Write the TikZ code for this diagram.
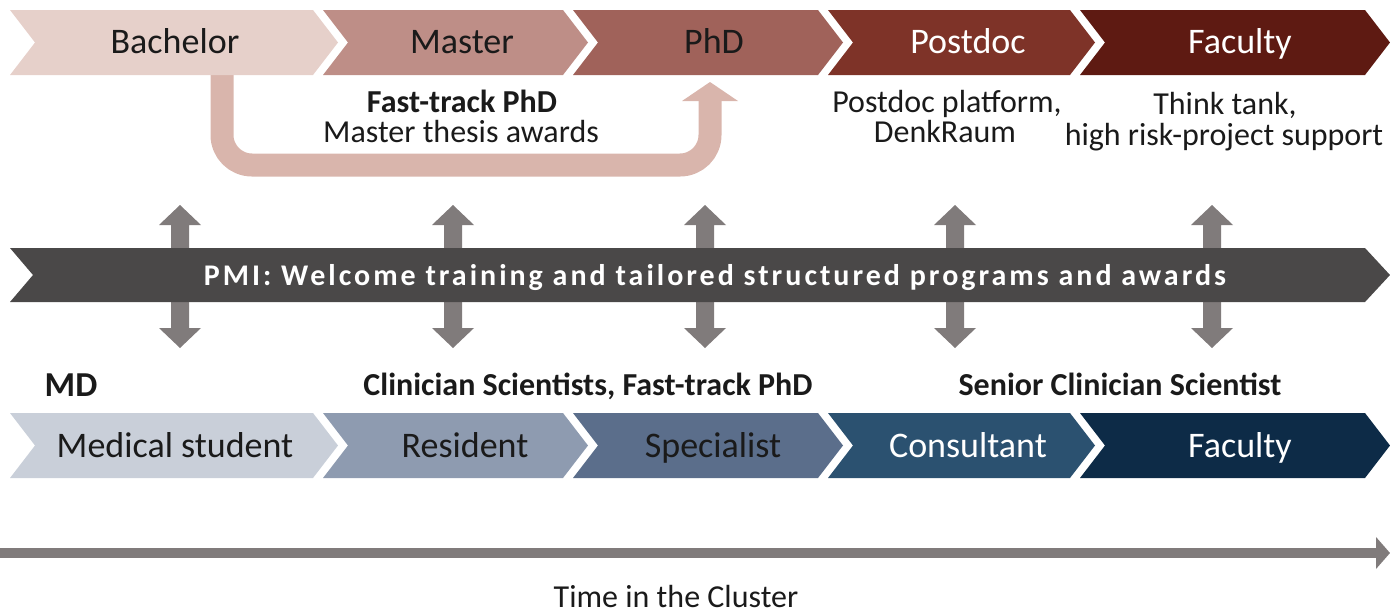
\documentclass[tikz,border=0pt]{standalone}
\usepackage{fontspec}
\setmainfont{Carlito}
\definecolor{cBach}{HTML}{E6D0CA}
\definecolor{cMast}{HTML}{BE8E87}
\definecolor{cPhD}{HTML}{A0625A}
\definecolor{cPost}{HTML}{7E3328}
\definecolor{cFacT}{HTML}{5E1A12}
\definecolor{cUarr}{HTML}{D9B5AC}
\definecolor{cMed}{HTML}{C9CFD9}
\definecolor{cRes}{HTML}{8E9BB0}
\definecolor{cSpec}{HTML}{5B6E8B}
\definecolor{cCons}{HTML}{2B5170}
\definecolor{cFacB}{HTML}{0D2B47}
\definecolor{cBar}{HTML}{4A4848}
\definecolor{cGray}{HTML}{807B7B}
\definecolor{cText}{HTML}{1A1A1A}
\newcommand\mychev[5]{\fill[#5] (#1,#3) -- (#2,#3) -- ({#2+25},{(#3+#4)/2}) -- (#2,#4) -- (#1,#4) -- ({#1+25},{(#3+#4)/2}) -- cycle;}
\newcommand\mydbl[1]{\fill[cGray] ({#1-9},225) -- ({#1-21},225) -- (#1,205) -- ({#1+21},225) -- ({#1+9},225) -- ({#1+9},328) -- ({#1+21},328) -- (#1,348) -- ({#1-21},328) -- ({#1-9},328) -- cycle;}
\tikzset{
  lab/.style={font=\fontsize{36}{40}\selectfont, anchor=base, inner sep=0pt, text=cText},
  wlab/.style={lab, text=white},
  sub/.style={font=\fontsize{32}{36}\selectfont, anchor=base, inner sep=0pt, text=cText},
  subb/.style={sub, font=\fontsize{32}{36}\selectfont\bfseries},
  mdlab/.style={sub, font=\fontsize{35}{38}\selectfont\bfseries},
  barlab/.style={font=\fontsize{30}{34}\selectfont\bfseries\addfontfeatures{LetterSpace=10}, text=white, anchor=base, inner sep=0pt},
  uarrow/.style={draw=cUarr, line width=23pt, rounded corners=30pt},
  timeline/.style={draw=cGray, line width=10pt}
}
\begin{document}
\begin{tikzpicture}[x=1pt,y=-1pt]
\useasboundingbox (0,0) rectangle (1390,614);
% fast-track U arrow
\coordinate (us) at (222,70);
\coordinate (ue) at (710,101);
\draw[uarrow] (us) -- (222,165) -- (710,165) -- (ue);
\fill[cUarr] (682,101) -- (710,82) -- (738,101) -- cycle;
% top chevrons
\mychev{10}{313}{10}{75}{cBach}
\mychev{323}{563}{10}{75}{cMast}
\mychev{573}{818}{10}{75}{cPhD}
\mychev{828}{1070}{10}{75}{cPost}
\mychev{1080}{1365}{10}{75}{cFacT}
\node[lab] (bach) at (175,53) {Bachelor};
\node[lab] (mast) at (462,53) {Master};
\node[lab] (phd) at (714,53) {PhD};
\node[wlab] (post) at (968,53) {Postdoc};
\node[wlab] (facT) at (1240,53) {Faculty};
% sub texts
\node[subb] (ft1) at (462,112) {Fast-track PhD};
\node[sub] (ft2) at (461,142) {Master thesis awards};
\node[sub] (pd1) at (947,112) {Postdoc platform,};
\node[sub] (pd2) at (945,142) {DenkRaum};
\node[sub] (tt1) at (1225,114) {Think tank,};
\node[sub] (tt2) at (1224,145) {high risk-project support};
% double arrows
\mydbl{180}
\mydbl{453}
\mydbl{705}
\mydbl{955}
\mydbl{1212}
% PMI bar
\fill[cBar] (10,248) -- (1365,248) -- (1390,275) -- (1365,302) -- (10,302) -- (33,275) -- cycle;
\node[barlab] (pmi) at (715,285) {PMI: Welcome training and tailored structured programs and awards};
% bottom labels
\node[mdlab] (md) at (71,396) {MD};
\node[subb] (cs) at (588,395) {Clinician Scientists, Fast-track PhD};
\node[subb] (scs) at (1120,395) {Senior Clinician Scientist};
% bottom chevrons
\mychev{10}{313}{413}{478}{cMed}
\mychev{323}{563}{413}{478}{cRes}
\mychev{573}{818}{413}{478}{cSpec}
\mychev{828}{1070}{413}{478}{cCons}
\mychev{1080}{1365}{413}{478}{cFacB}
\node[lab] (med) at (175,457) {Medical student};
\node[lab] (res) at (465,457) {Resident};
\node[lab] (spec) at (713,457) {Specialist};
\node[wlab] (cons) at (968,457) {Consultant};
\node[wlab] (facB) at (1240,457) {Faculty};
% time arrow
\coordinate (t0) at (0,553);
\coordinate (t1) at (1378,553);
\draw[timeline] (t0) -- (t1);
\fill[cGray] (1376,537) -- (1390,553) -- (1376,569) -- cycle;
\node[sub] (time) at (676,607) {Time in the Cluster};
\end{tikzpicture}
\end{document}
